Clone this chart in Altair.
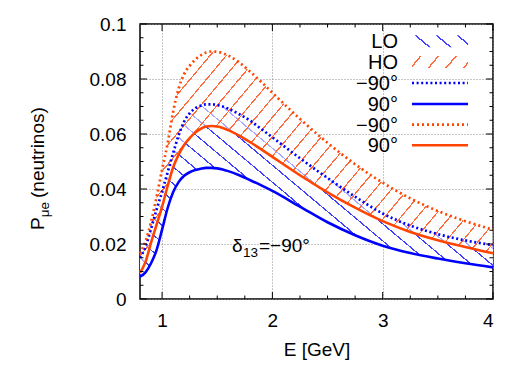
import math
import altair as alt
import pandas as pd

# ---------------- data ----------------
E      = [0.8, 0.85, 0.9, 0.95, 1.0, 1.05, 1.1, 1.15, 1.2, 1.25, 1.3, 1.35, 1.4, 1.45, 1.5,
          1.55, 1.6, 1.7, 1.8, 1.9, 2.0, 2.25, 2.5, 2.75, 3.0, 3.25, 3.5, 3.75, 4.0]
LO_M90 = [0.015, 0.019, 0.0255, 0.0325, 0.039, 0.046, 0.053, 0.0595, 0.0645, 0.0675, 0.0693, 0.0703,
          0.0708, 0.0708, 0.0705, 0.07, 0.0692, 0.0672, 0.0648, 0.0618, 0.0588, 0.0512, 0.044, 0.0372,
          0.0311, 0.0267, 0.0236, 0.0213, 0.0196]
LO_P90 = [0.0081, 0.0097, 0.013, 0.0178, 0.0252, 0.033, 0.0388, 0.0425, 0.0448, 0.0461, 0.0469, 0.0474,
          0.0477, 0.0477, 0.0475, 0.0471, 0.0465, 0.045, 0.0432, 0.0413, 0.0393, 0.0336, 0.0279, 0.0232,
          0.0194, 0.0167, 0.0147, 0.013, 0.0115]
HO_M90 = [0.0165, 0.021, 0.028, 0.037, 0.047, 0.0565, 0.068, 0.0765, 0.0818, 0.0848, 0.087, 0.0886,
          0.0896, 0.09, 0.0899, 0.0894, 0.0885, 0.086, 0.0826, 0.0789, 0.075, 0.0655, 0.0568, 0.049,
          0.0423, 0.0366, 0.032, 0.0283, 0.0252]
HO_P90 = [0.0095, 0.0135, 0.0205, 0.027, 0.0335, 0.041, 0.0478, 0.0525, 0.056, 0.0585, 0.0605, 0.0619,
          0.0627, 0.0629, 0.0627, 0.0622, 0.0614, 0.0594, 0.057, 0.0544, 0.0517, 0.045, 0.0388, 0.0332,
          0.0283, 0.0244, 0.0214, 0.0189, 0.0166]

X_MAJOR = [1, 2, 3, 4]
X_MINOR = [1.25, 1.5, 1.75, 2.25, 2.5, 2.75, 3.25, 3.5, 3.75]
Y_MAJOR = [0, 0.02, 0.04, 0.06, 0.08, 0.1]
Y_MINOR = [0.005, 0.01, 0.015, 0.025, 0.03, 0.035, 0.045, 0.05, 0.055,
           0.065, 0.07, 0.075, 0.085, 0.09, 0.095]
LEGEND_LABELS = ["LO", "HO", "\u221290\u00b0", "90\u00b0", "\u221290\u00b0", "90\u00b0"]
X_TITLE = "E [GeV]"
Y_TITLE = ["P", "\u03bce", "(neutrinos)"]
NOTE = ["\u03b4", "13", "=\u221290\u00b0"]

# ---------------- styling ----------------
W, H = 353, 275
XDOM, YDOM = [0.8, 4.0], [0.0, 0.1]
FONT = "Liberation Sans"
FS = 19
BLUE = "#0000ff"
ORANGE = "#ff4500"
BLUE_HATCH = "#4040ff"
ORANGE_HATCH = "#ff6a3d"
INTERP = "monotone"

XS = alt.Scale(domain=XDOM, nice=False, zero=False)
YS = alt.Scale(domain=YDOM, nice=False, zero=False)


def ypix(v):
    return H * (1 - (v - YDOM[0]) / (YDOM[1] - YDOM[0]))


def hatch(bw, bh, angle_deg, spacing, lw, color, bg):
    """Striped linear gradient (in bounding-box units) that looks like hatching."""
    th = math.radians(angle_deg)
    dx, dy = math.cos(th), math.sin(th)
    nx, ny = -dy, dx
    a, b = nx * bw, ny * bh
    corners = [(0, 0), (1, 0), (0, 1), (1, 1)]
    projs = [cx * a + cy * b for cx, cy in corners]
    p1 = corners[projs.index(min(projs))]
    k = (max(projs) - min(projs)) / (a * a + b * b)
    p2 = (p1[0] + k * a, p1[1] + k * b)
    L = k * (a * a + b * b) / math.hypot(a / bw, b / bh)
    h = lw / 2 / L
    stops = [{"offset": 0, "color": bg}]
    i = 0
    while True:
        c = (i + 0.5) * spacing / L
        if c - h >= 1:
            break
        lo_, hi_ = max(0.0, c - h), min(1.0, c + h)
        stops += [{"offset": round(lo_, 5), "color": bg},
                  {"offset": round(lo_, 5), "color": color},
                  {"offset": round(hi_, 5), "color": color},
                  {"offset": round(hi_, 5), "color": bg}]
        i += 1
    stops.append({"offset": 1, "color": bg})
    return {"gradient": "linear", "x1": p1[0], "y1": p1[1],
            "x2": round(p2[0], 5), "y2": round(p2[1], 5), "stops": stops}


df = pd.DataFrame({"E": E, "lo_m90": LO_M90, "lo_p90": LO_P90,
                   "ho_m90": HO_M90, "ho_p90": HO_P90})
base = alt.Chart(df)

BLUE_ANG, ORANGE_ANG = 40, -50
blue_grad = hatch(W, ypix(min(LO_P90)) - ypix(max(LO_M90)), BLUE_ANG, 13, 1.2,
                  BLUE_HATCH, "rgba(255,255,255,0.9)")
orange_grad = hatch(W, ypix(min(HO_P90)) - ypix(max(HO_M90)), ORANGE_ANG, 12.5, 1.2,
                    ORANGE_HATCH, "rgba(255,255,255,0.55)")

x_axis = alt.Axis(values=X_MAJOR, format="d", ticks=False, domain=False, grid=True,
                  gridDash=[1, 2], gridColor="#8a8a8a", gridWidth=1,
                  labelFont=FONT, labelFontSize=FS, labelColor="black", labelPadding=12,
                  title=X_TITLE, titleFont=FONT, titleFontSize=FS, titleFontWeight="normal",
                  titleColor="black", titlePadding=10)
y_axis = alt.Axis(values=Y_MAJOR, format=".2~f", ticks=False, domain=False, grid=True,
                  gridDash=[1, 2], gridColor="#8a8a8a", gridWidth=1,
                  labelFont=FONT, labelFontSize=FS, labelColor="black", labelPadding=14,
                  title=None)


def X(field):
    return alt.X(f"{field}:Q", scale=XS, axis=x_axis, title=X_TITLE)


def Y(field):
    return alt.Y(f"{field}:Q", scale=YS, axis=y_axis, title=None)


blue_area = base.mark_area(interpolate=INTERP, fill=blue_grad).encode(
    x=X("E"), y=Y("lo_m90"), y2="lo_p90:Q")
orange_area = base.mark_area(interpolate=INTERP, fill=orange_grad).encode(
    x=X("E"), y=Y("ho_m90"), y2="ho_p90:Q")


def curve(field, color, dash=None):
    kw = dict(interpolate=INTERP, color=color, strokeWidth=2.6)
    if dash:
        kw["strokeDash"] = dash
        kw["strokeWidth"] = 2.7
    return base.mark_line(**kw).encode(x=X("E"), y=Y(field))


lines = [curve("lo_m90", BLUE, [2, 2.6]), curve("ho_m90", ORANGE, [2, 3]),
         curve("lo_p90", BLUE), curve("ho_p90", ORANGE)]

# inward ticks on all four sides
tick_layers = []
for vals, ln in ((X_MAJOR, 7), (X_MINOR, 3.5)):
    d = alt.Chart(pd.DataFrame({"v": vals}))
    tick_layers.append(d.mark_rule(color="black", strokeWidth=1).encode(
        x=X("v"), y=alt.value(H), y2=alt.value(H - ln)))
    tick_layers.append(d.mark_rule(color="black", strokeWidth=1).encode(
        x=X("v"), y=alt.value(0), y2=alt.value(ln)))
for vals, ln in ((Y_MAJOR, 7), (Y_MINOR, 3.5)):
    d = alt.Chart(pd.DataFrame({"v": vals}))
    tick_layers.append(d.mark_rule(color="black", strokeWidth=1).encode(
        y=Y("v"), x=alt.value(0), x2=alt.value(ln)))
    tick_layers.append(d.mark_rule(color="black", strokeWidth=1).encode(
        y=Y("v"), x=alt.value(W), x2=alt.value(W - ln)))


def text(t, x, y, size, align="left", angle=None):
    kw = dict(font=FONT, fontSize=size, color="black", align=align, baseline="alphabetic")
    if angle is not None:
        kw["angle"] = angle
    return alt.Chart(alt.Data(values=[{"t": t}])).mark_text(**kw).encode(
        text="t:N", x=alt.value(x), y=alt.value(y))


texts = [
    text(Y_TITLE[0], -96, 206, FS, angle=270),
    text(Y_TITLE[1], -91, 193.3, 13.5, angle=270),
    text(Y_TITLE[2], -96, 174, FS, angle=270),
    text(NOTE[0], 92, 227.5, FS),
    text(NOTE[1], 103, 233, 13.5),
    text(NOTE[2], 119, 227.5, FS),
]

# legend
LEG_BASE = [24.3, 45, 66, 87, 107.7, 128.3]
LX_TXT, LX0, LX1 = 258, 272, 328
legend = []
for lab, yb in zip(LEGEND_LABELS, LEG_BASE):
    legend.append(text(lab, LX_TXT, yb, 20, align="right"))
one = alt.Chart(alt.Data(values=[{"a": 1}]))
legend.append(one.mark_rect(fill=hatch(LX1 - LX0, 12, BLUE_ANG, 13.5, 1.4, BLUE_HATCH,
                                        "rgba(255,255,255,0)")).encode(
    x=alt.value(LX0), x2=alt.value(LX1), y=alt.value(LEG_BASE[0] - 13), y2=alt.value(LEG_BASE[0] - 1)))
legend.append(one.mark_rect(fill=hatch(LX1 - LX0, 12, ORANGE_ANG, 13.5, 1.4, ORANGE_HATCH,
                                        "rgba(255,255,255,0)")).encode(
    x=alt.value(LX0), x2=alt.value(LX1), y=alt.value(LEG_BASE[1] - 13), y2=alt.value(LEG_BASE[1] - 1)))
for yb, col, dash in ((LEG_BASE[2], BLUE, [2, 2.6]), (LEG_BASE[3], BLUE, None),
                      (LEG_BASE[4], ORANGE, [2, 3]), (LEG_BASE[5], ORANGE, None)):
    kw = dict(color=col, strokeWidth=2.6)
    if dash:
        kw["strokeDash"] = dash
        kw["strokeWidth"] = 2.7
    legend.append(one.mark_rule(**kw).encode(
        x=alt.value(LX0), x2=alt.value(LX1), y=alt.value(yb - 7)))

chart = alt.layer(blue_area, orange_area, *lines, *tick_layers, *texts, *legend).properties(
    width=W, height=H,
    padding={"left": 140, "top": 24, "right": 32, "bottom": 68},
    autosize=alt.AutoSizeParams(type="none"),
    background="white",
).configure_view(stroke="black", strokeWidth=1.5)

chart.save("out.html", embed_options={"renderer": "svg", "actions": False})
